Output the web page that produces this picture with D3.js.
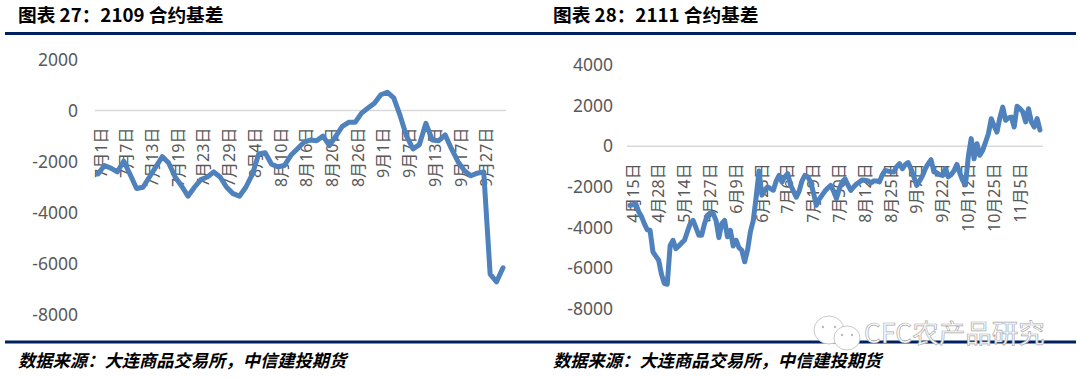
<!DOCTYPE html>
<html>
<head>
<meta charset="utf-8">
<script src="https://cdn.jsdelivr.net/npm/d3@7"></script>
<style>
    html, body { margin: 0; padding: 0; background: #fff; }
    svg { display: block; }
    .tick text { font-family: "Noto Sans", "Noto Sans CJK SC", sans-serif; }
    .title { font-family: "Noto Sans CJK SC", sans-serif; font-weight: 700; font-size: 18.7px; fill: #000; }
    .source { font-family: "Noto Sans CJK SC", sans-serif; font-weight: 700; font-style: italic; font-size: 17.3px; fill: #000; }
</style>
</head>
<body>
<div id="chart"></div>
<script>
var dates2109 = ["7月1日","7月2日","7月5日","7月6日","7月7日","7月8日","7月9日","7月12日","7月13日","7月14日","7月15日","7月16日","7月19日","7月20日","7月21日","7月22日","7月23日","7月26日","7月27日","7月28日","7月29日","7月30日","8月2日","8月3日","8月4日","8月5日","8月6日","8月9日","8月10日","8月11日","8月12日","8月13日","8月16日","8月17日","8月18日","8月19日","8月20日","8月23日","8月24日","8月25日","8月26日","8月27日","8月30日","8月31日","9月1日","9月2日","9月3日","9月6日","9月7日","9月8日","9月9日","9月10日","9月13日","9月14日","9月15日","9月16日","9月17日","9月22日","9月23日","9月24日","9月27日","9月28日","9月29日","9月30日"];
var basis2109 = [-2480,-2150,-2250,-2400,-1980,-2500,-3050,-3000,-2600,-2200,-1800,-2050,-2600,-2950,-3350,-3000,-2700,-2600,-2400,-2600,-3000,-3250,-3350,-3000,-2500,-1700,-1650,-2100,-2200,-2150,-1750,-1500,-1250,-1150,-1180,-1000,-1370,-1000,-620,-460,-460,-100,100,290,620,720,500,-200,-1000,-1500,-1330,-500,-1150,-1180,-950,-1500,-2000,-2350,-2550,-2450,-2400,-6400,-6700,-6150];

var dates2111 = ["4月15日","4月16日","4月19日","4月20日","4月21日","4月22日","4月23日","4月26日","4月27日","4月28日","4月29日","4月30日","5月6日","5月7日","5月10日","5月11日","5月12日","5月13日","5月14日","5月17日","5月18日","5月19日","5月20日","5月21日","5月24日","5月25日","5月26日","5月27日","5月28日","5月31日","6月1日","6月2日","6月3日","6月4日","6月7日","6月8日","6月9日","6月10日","6月11日","6月15日","6月16日","6月17日","6月18日","6月21日","6月22日","6月23日","6月24日","6月25日","6月28日","6月29日","6月30日","7月1日","7月2日","7月5日","7月6日","7月7日","7月8日","7月9日","7月12日","7月13日","7月14日","7月15日","7月16日","7月19日","7月20日","7月21日","7月22日","7月23日","7月26日","7月27日","7月28日","7月29日","7月30日","8月2日","8月3日","8月4日","8月5日","8月6日","8月9日","8月10日","8月11日","8月12日","8月13日","8月16日","8月17日","8月18日","8月19日","8月20日","8月23日","8月24日","8月25日","8月26日","8月27日","8月30日","8月31日","9月1日","9月2日","9月3日","9月6日","9月7日","9月8日","9月9日","9月10日","9月13日","9月14日","9月15日","9月16日","9月17日","9月22日","9月23日","9月24日","9月27日","9月28日","9月29日","9月30日","10月8日","10月11日","10月12日","10月13日","10月14日","10月15日","10月18日","10月19日","10月20日","10月21日","10月22日","10月25日","10月26日","10月27日","10月28日","10月29日","11月1日","11月2日","11月3日","11月4日","11月5日","11月8日","11月9日","11月10日","11月11日","11月12日","11月15日","11月16日","11月17日"];
var basis2111 = [-2900,-2880,-2820,-3200,-3450,-3800,-4100,-4130,-5190,-5400,-5600,-6300,-6750,-6780,-4870,-4620,-5030,-4900,-4750,-4620,-4200,-3800,-3640,-4000,-4370,-4370,-3800,-3390,-3280,-3300,-3640,-4490,-3800,-3640,-4450,-4130,-4900,-4620,-4980,-5110,-5680,-5100,-4200,-3640,-2500,-1210,-2400,-2160,-2000,-2080,-2160,-1700,-1430,-1750,-1500,-1340,-1900,-2200,-2500,-2200,-1700,-1430,-1500,-1750,-2300,-2900,-2600,-2400,-2200,-2050,-1920,-2200,-2570,-2100,-1750,-1600,-1900,-2170,-2000,-1850,-1750,-1650,-1670,-1700,-1800,-1700,-1700,-1750,-1400,-1180,-1220,-1250,-1260,-1000,-850,-1100,-900,-800,-1100,-1500,-1920,-1700,-1450,-1100,-850,-660,-1260,-1300,-1400,-1430,-1100,-1500,-1400,-1200,-890,-1300,-1670,-1900,-500,380,-610,130,-440,-200,200,620,1360,1000,700,1400,1930,1280,1400,1440,950,1970,1850,1690,1200,1850,1200,950,1360,800];

var ticks2109 = [2000, 0, -2000, -4000, -6000, -8000];
var ticks2111 = [4000, 2000, 0, -2000, -4000, -6000, -8000];

var svg = d3.select("#chart").append("svg")
    .attr("width", 1080)
    .attr("height", 379);

function basisChart(params) {
    var x = d3.scalePoint()
        .domain(params.dates)
        .range([params.left, params.right]);

    var y = d3.scaleLinear()
        .domain([params.ticks[0], params.ticks[params.ticks.length - 1]])
        .range([params.top, params.bottom]);

    var g = svg.append("g");

    // every nth category gets a label, the rest are skipped like excel does
    var xAxis = d3.axisBottom(x)
        .tickValues(params.dates.filter(function (d, i) { return i % params.every === 0; }))
        .tickSize(0);

    var xg = g.append("g")
        .attr("transform", "translate(0," + y(0) + ")")
        .call(xAxis);
    xg.select(".domain").remove();
    xg.selectAll("text")
        .attr("transform", "translate(" + params.labelShift + ",17) rotate(-90)")
        .attr("x", 0)
        .attr("y", 0)
        .attr("dy", ".35em")
        .style("text-anchor", "end")
        .style("font-size", "16px")
        .style("fill", "#595959");

    g.append("line")
        .attr("x1", params.left - 3)
        .attr("x2", params.right + 3)
        .attr("y1", y(0))
        .attr("y2", y(0))
        .style("stroke", "#d9d9d9")
        .style("stroke-width", "1.5px");

    var yAxis = d3.axisLeft(y)
        .tickValues(params.ticks)
        .tickSize(0)
        .tickPadding(0)
        .tickFormat(function (d) { return String(d); });

    var yg = g.append("g")
        .attr("transform", "translate(" + params.axisRight + ",0)")
        .call(yAxis);
    yg.select(".domain").remove();
    yg.selectAll("text")
        .style("font-size", "17.5px")
        .style("fill", "#595959");

    var line = d3.line()
        .x(function (d, i) { return x(params.dates[i]); })
        .y(function (d) { return y(d); });

    g.append("path")
        .datum(params.values)
        .attr("d", line)
        .style("fill", "none")
        .style("stroke", "#4f81bd")
        .style("stroke-width", "5px")
        .style("stroke-linejoin", "round")
        .style("stroke-linecap", "round");

    g.append("text")
        .attr("class", "title")
        .attr("x", params.textX)
        .attr("y", 22)
        .text(params.title);

    g.append("text")
        .attr("class", "source")
        .attr("x", params.textX)
        .attr("y", 367)
        .text("数据来源：大连商品交易所，中信建投期货");
}

// header and footer rules run across both panels
[33.5, 342].forEach(function (ry) {
    svg.append("line")
        .attr("x1", 5)
        .attr("x2", 1076)
        .attr("y1", ry)
        .attr("y2", ry)
        .style("stroke", "#002060")
        .style("stroke-width", "3px");
});

basisChart({
    dates: dates2109, values: basis2109, ticks: ticks2109, every: 4,
    title: "图表 27：2109 合约基差",
    left: 98, right: 503, top: 59.5, bottom: 315, axisRight: 78, labelShift: 2.5, textX: 18
});

basisChart({
    dates: dates2111, values: basis2111, ticks: ticks2111, every: 9,
    title: "图表 28：2111 合约基差",
    left: 630, right: 1040, top: 65, bottom: 309, axisRight: 613, labelShift: 2.5, textX: 553
});

// wechat style watermark
var mark = svg.append("g");
[[829, 330, 15, 14, 823, 835], [847, 338, 13, 12, 842, 852]].forEach(function (b) {
    mark.append("ellipse")
        .attr("cx", b[0]).attr("cy", b[1]).attr("rx", b[2]).attr("ry", b[3])
        .style("fill", "#fff")
        .style("stroke", "#bbb")
        .style("stroke-width", "0.8px");
    [b[4], b[5]].forEach(function (ex) {
        mark.append("circle")
            .attr("cx", ex).attr("cy", b[1] - 3).attr("r", 1.2)
            .style("fill", "#bbb");
    });
});
mark.append("text")
    .attr("x", 864)
    .attr("y", 343)
    .style("font-family", "'Noto Sans CJK SC', sans-serif")
    .style("font-size", "26.5px")
    .style("fill", "#fff")
    .style("stroke", "#aaa")
    .style("stroke-width", "0.7px")
    .text("CFC农产品研究");
</script>
</body>
</html>
